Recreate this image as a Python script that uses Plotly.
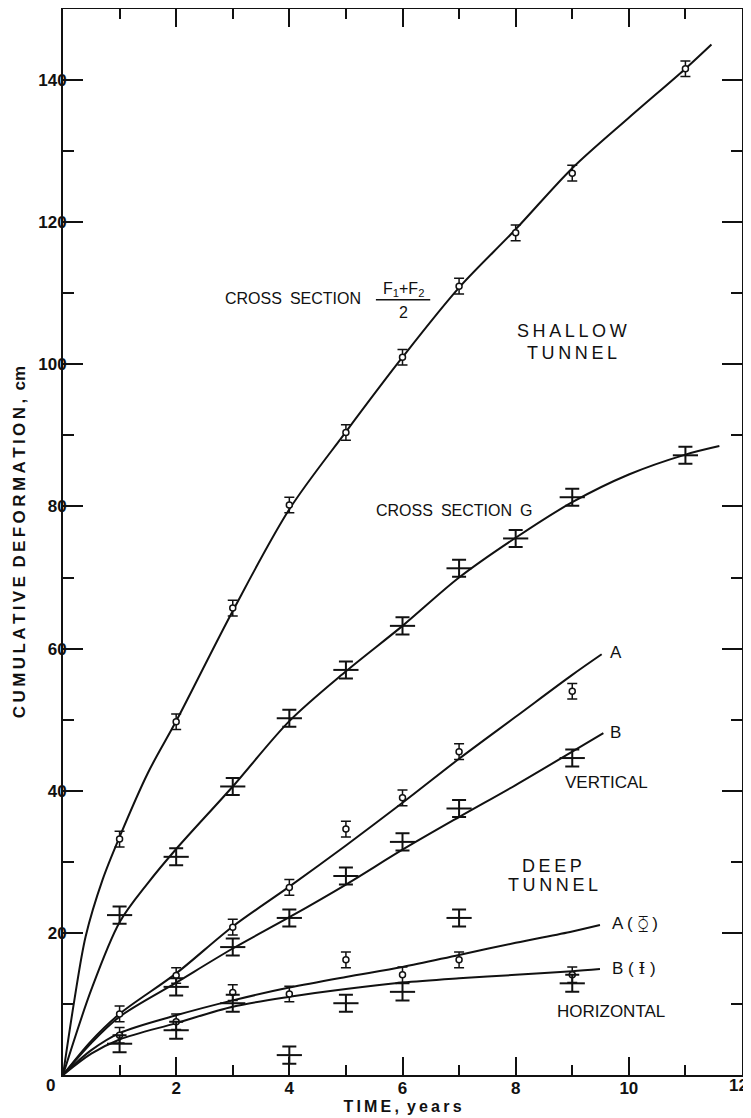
import plotly.graph_objects as go

# ---------------- data ----------------
years_f = [1, 2, 3, 4, 5, 6, 7, 8, 9, 11]
f_obs = [33.2, 49.7, 65.7, 80.2, 90.4, 101.0, 111.0, 118.5, 126.9, 141.6]
f_err = [1.1, 1.1, 1.1, 1.1, 1.1, 1.1, 1.1, 1.1, 1.1, 1.1]
g_obs = [22.5, 30.7, 40.6, 50.2, 57.0, 63.2, 71.3, 75.5, 81.3, 87.2]
g_err = [1.2, 1.2, 1.2, 1.2, 1.2, 1.2, 1.2, 1.2, 1.2, 1.2]

years_va = [1, 2, 3, 4, 5, 6, 7, 9]
va_obs = [8.6, 14.0, 20.8, 26.4, 34.6, 39.0, 45.5, 54.0]
va_err = [1.1, 1.1, 1.1, 1.1, 1.1, 1.1, 1.1, 1.1]
years_vb = [2, 3, 4, 5, 6, 7, 9]
vb_obs = [12.4, 18.0, 22.1, 28.0, 32.8, 37.5, 44.6]
vb_err = [1.2, 1.2, 1.2, 1.2, 1.2, 1.2, 1.2]

years_ha = [1, 2, 3, 4, 5, 6, 7, 9]
ha_obs = [5.6, 7.5, 11.6, 11.4, 16.2, 14.1, 16.2, 14.1]
ha_err = [1.1, 1.1, 1.1, 1.1, 1.1, 1.1, 1.1, 1.1]
years_hb = [1, 2, 3, 4, 5, 6, 7, 9]
hb_obs = [4.4, 6.3, 10.1, 2.8, 10.1, 11.7, 22.1, 12.9]
hb_err = [1.2, 1.2, 1.2, 1.2, 1.2, 1.2, 1.2, 1.2]

# fitted curves drawn through the data
f_curve_x = [0, 0.2, 0.4, 0.7, 1, 1.5, 2, 3, 4, 5, 6, 7, 8, 9, 10, 11, 11.46]
f_curve_y = [0, 10.5, 19.5, 27.5, 33.5, 42.5, 49.8, 65.3, 79.6, 90.5, 101.0, 110.8, 119.0, 127.6, 134.7, 141.6, 145.0]
g_curve_x = [0, 0.5, 1, 1.5, 2, 3, 4, 5, 6, 7, 8, 9, 10, 11, 11.6]
g_curve_y = [0, 12.0, 21.5, 27.0, 31.8, 40.6, 49.8, 56.8, 63.2, 70.0, 75.6, 80.6, 84.5, 87.3, 88.5]
va_curve_x = [0, 0.5, 1, 2, 3, 4, 5, 6, 7, 8, 9, 9.52]
va_curve_y = [0, 4.8, 8.6, 14.3, 20.9, 26.5, 32.3, 38.3, 44.5, 50.4, 56.3, 59.2]
vb_curve_x = [0, 0.5, 1, 2, 3, 4, 5, 6, 7, 8, 9, 9.55]
vb_curve_y = [0, 4.5, 8.2, 13.0, 17.8, 22.2, 26.8, 31.7, 36.3, 40.8, 45.5, 48.1]
ha_curve_x = [0, 0.5, 1, 2, 3, 4, 5, 6, 7, 8, 9, 9.49]
ha_curve_y = [0, 3.5, 5.9, 8.4, 10.5, 12.3, 13.8, 15.2, 16.9, 18.6, 20.2, 21.1]
hb_curve_x = [0, 0.5, 1, 2, 3, 4, 5, 6, 7, 8, 9, 9.49]
hb_curve_y = [0, 3.0, 5.0, 7.3, 9.6, 11.0, 12.1, 13.0, 13.6, 14.1, 14.6, 14.9]

x_tick_vals = [2, 4, 6, 8, 10, 12]
x_tick_text = ["2", "4", "6", "8", "10", ""]   # "12" sits on the page edge: drawn as text below
y_tick_vals = [20, 40, 60, 80, 100, 120, 140]
y_tick_text = ["20", "40", "60", "80", "100", "120", "140"]

FONT = "Liberation Sans, Arial, sans-serif"
INK = "#111111"
TS = "\u2009"   # thin space (letter spacing)
WS = "\u2002"   # en space (word spacing)


def spaced(s):
    return WS.join(TS.join(list(w)) for w in s.split(" "))


fig = go.Figure()

for cx, cy in [(f_curve_x, f_curve_y), (g_curve_x, g_curve_y), (va_curve_x, va_curve_y),
               (vb_curve_x, vb_curve_y), (ha_curve_x, ha_curve_y), (hb_curve_x, hb_curve_y)]:
    fig.add_trace(go.Scatter(x=cx, y=cy, mode="lines",
                             line=dict(color=INK, width=2, shape="spline", smoothing=0.9),
                             hoverinfo="skip"))


def circles(x, y, e):
    fig.add_trace(go.Scatter(
        x=x, y=y, mode="markers",
        marker=dict(symbol="circle", size=6, color="white", line=dict(color=INK, width=1.5)),
        error_y=dict(type="data", array=e, visible=True, color=INK, thickness=1.5, width=5),
    ))


def crosses(x, y, e):
    fig.add_trace(go.Scatter(
        x=x, y=y, mode="markers",
        marker=dict(symbol="line-ew", size=18, color=INK, line=dict(color=INK, width=2)),
        error_y=dict(type="data", array=e, visible=True, color=INK, thickness=2, width=7),
    ))


circles(years_f, f_obs, f_err)
crosses(years_f, g_obs, g_err)
circles(years_va, va_obs, va_err)
crosses(years_vb, vb_obs, vb_err)
circles(years_ha, ha_obs, ha_err)
crosses(years_hb, hb_obs, hb_err)

ann = []


def txt(x, y, s, size=16, xanchor="center", xref="x", yref="y"):
    ann.append(dict(x=x, y=y, xref=xref, yref=yref, text=s, showarrow=False,
                    xanchor=xanchor, yanchor="middle",
                    font=dict(family=FONT, size=size, color=INK)))


txt(4.06, 109.3, "CROSS" + WS + "SECTION", 16)
txt(6.01, 110.6, "F<sub>1</sub>+F<sub>2</sub>", 16)
txt(6.01, 107.3, "2", 16)
txt(9.0, 104.7, spaced("SHALLOW"), 18)
txt(9.0, 101.6, spaced("TUNNEL"), 18)
txt(6.91, 79.5, "CROSS" + WS + "SECTION" + WS + "G", 16)
txt(9.77, 59.5, "A", 17)
txt(9.77, 48.2, "B", 17)
txt(9.6, 41.1, "VERTICAL", 17)
txt(8.64, 29.4, spaced("DEEP"), 18)
txt(8.66, 26.7, spaced("TUNNEL"), 18)
txt(9.67, 21.4, "A ( <span style='font-family:DejaVu Sans'>⧲</span> )", 17, xanchor="left")
txt(9.67, 15.1, "B ( <span style='font-family:DejaVu Serif'>Ɨ</span> )", 17, xanchor="left")
txt(9.68, 8.9, "HORIZONTAL", 17)
txt(-0.019, -0.0094, "<b>0</b>", 17, xref="paper", yref="paper")
txt(1.0115, -0.0094, "<b>12</b>", 17, xanchor="right", xref="paper", yref="paper")

fig.update_layout(
    width=743, height=1110,
    margin=dict(l=55, r=9, t=1, b=43, autoexpand=False),
    paper_bgcolor="white", plot_bgcolor="white",
    showlegend=False,
    annotations=ann,
    shapes=[dict(type="line", xref="x", yref="y", x0=5.53, x1=6.49, y0=109.1, y1=109.1,
                 line=dict(color=INK, width=1.5))],
    font=dict(family=FONT, color=INK),
)

fig.update_xaxes(
    range=[0, 12], showgrid=False, zeroline=False,
    showline=True, linecolor=INK, linewidth=2, mirror="ticks",
    tickmode="array", tickvals=x_tick_vals, ticktext=x_tick_text,
    ticks="inside", ticklen=18, tickwidth=1.5, tickcolor=INK,
    minor=dict(dtick=1, tick0=0, ticks="inside", ticklen=10, tickwidth=1.5, tickcolor=INK),
    tickfont=dict(family=FONT, size=17, color=INK, weight="bold"),
    ticklabelstandoff=-3, ticklabeloverflow="allow",
    title=dict(text=spaced("TIME,") + WS + spaced("years"), standoff=3,
               font=dict(family=FONT, size=16, color=INK, weight="bold")),
)
fig.update_yaxes(
    range=[0, 150], showgrid=False, zeroline=False,
    showline=True, linecolor=INK, linewidth=2, mirror="ticks",
    tickmode="array", tickvals=y_tick_vals, ticktext=y_tick_text,
    ticks="inside", ticklen=20, tickwidth=1.5, tickcolor=INK,
    minor=dict(dtick=10, tick0=0, ticks="inside", ticklen=11, tickwidth=1.5, tickcolor=INK),
    tickfont=dict(family=FONT, size=17, color=INK, weight="bold"),
    ticklabelstandoff=-9, ticklabeloverflow="allow",
    title=dict(text=spaced("CUMULATIVE DEFORMATION,") + WS + "cm", standoff=8,
               font=dict(family=FONT, size=17, color=INK, weight="bold")),
)

fig.write_html("out.html")
